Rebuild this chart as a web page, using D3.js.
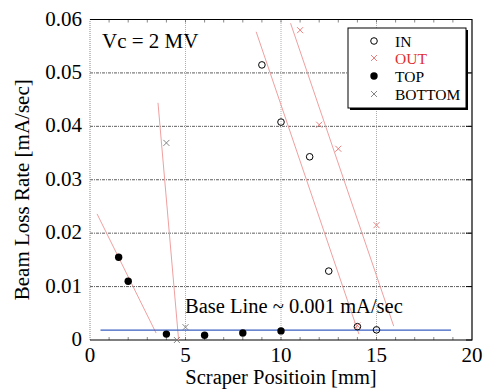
<!DOCTYPE html>
<html>
<head>
<meta charset="utf-8">
<script src="https://cdn.jsdelivr.net/npm/d3@7"></script>
<style>
  body { margin: 0; background: #fff; }
  svg text { font-family: "Liberation Serif", "Times New Roman", Times, "DejaVu Serif", serif; }
</style>
</head>
<body>
<div id="chart"></div>
<script>
// -----------------------------
// data
// -----------------------------
const inPts = [[9, 0.0515], [10, 0.0408], [11.5, 0.0343], [12.5, 0.0129], [14, 0.0025], [15, 0.0019]]
const outPts = [[11, 0.058], [12, 0.0403], [13, 0.0358], [15, 0.0215], [14, 0.0027]]
const topPts = [[1.5, 0.0155], [2, 0.011], [4, 0.0011], [6, 0.0009], [8, 0.0013], [10, 0.0017]]
const bottomPts = [[4, 0.0369], [4.55, 0], [5, 0.0024]]

// fitted lines (start, end)
const fitLines = [
    [[0.37, 0.0236], [3.46, 0.0013]],
    [[3.56, 0.0444], [4.64, 0]],
    [[8.7, 0.0577], [14.08, 0.0011]],
    [[10.5, 0.0593], [15.9, 0.0026]]
]
const baseLine = [[0.55, 0.00185], [18.9, 0.00185]]

const xTicks = [0, 5, 10, 15, 20]
const yTicks = [0, 0.01, 0.02, 0.03, 0.04, 0.05, 0.06]
const legendItems = ['IN', 'OUT', 'TOP', 'BOTTOM']

// -----------------------------
// layout
// -----------------------------
const w = 486, h = 390
const margin = {left: 90, right: 14, top: 19.5, bottom: 50}

const x = d3.scaleLinear().domain([0, 20]).range([margin.left, w - margin.right])
const y = d3.scaleLinear().domain([0, 0.06]).range([h - margin.bottom, margin.top])

const svg = d3.select('#chart').append('svg')
    .attr('width', w).attr('height', h)
    .attr('font-family', '"Liberation Serif", "Times New Roman", serif')

const x0 = x(0), x1 = x(20), y0 = y(0), y1 = y(0.06)

// grid lines
svg.append('g').selectAll('line.hgrid')
    .data(yTicks.slice(1, -1))
    .join('line')
    .attr('x1', x0).attr('x2', x1)
    .attr('y1', d => y(d)).attr('y2', d => y(d))
    .attr('stroke', '#333').attr('stroke-width', 0.8)
    .attr('stroke-dasharray', '3,1,1,1')

svg.append('g').selectAll('line.vgrid')
    .data(xTicks.slice(1, -1))
    .join('line')
    .attr('x1', d => x(d)).attr('x2', d => x(d))
    .attr('y1', y0).attr('y2', y1)
    .attr('stroke', '#999').attr('stroke-width', 0.8)
    .attr('stroke-dasharray', '1,1')

// minor ticks on top and bottom
const minor = d3.range(1, 20)
svg.append('g').selectAll('line')
    .data(minor)
    .join('line')
    .attr('x1', d => x(d)).attr('x2', d => x(d))
    .attr('y1', y0).attr('y2', y0 - 3)
    .attr('stroke', '#555').attr('stroke-width', 0.7)
svg.append('g').selectAll('line')
    .data(minor)
    .join('line')
    .attr('x1', d => x(d)).attr('x2', d => x(d))
    .attr('y1', y1).attr('y2', y1 + 3)
    .attr('stroke', '#555').attr('stroke-width', 0.7)

// right side major ticks
svg.append('g').selectAll('line')
    .data(yTicks)
    .join('line')
    .attr('x1', x1).attr('x2', x1 - 6)
    .attr('y1', d => y(d)).attr('y2', d => y(d))
    .attr('stroke', '#000').attr('stroke-width', 1)

// frame
svg.append('line').attr('x1', x0).attr('x2', x0).attr('y1', y0).attr('y2', y1)
    .attr('stroke', '#888').attr('stroke-width', 1).attr('stroke-dasharray', '1,1')
svg.append('path')
    .attr('d', `M${x0},${y1}H${x1}V${y0}H${x0}`)
    .attr('fill', 'none').attr('stroke', '#000').attr('stroke-width', 1.2)

// tick labels
svg.append('g').selectAll('text')
    .data(yTicks)
    .join('text')
    .attr('x', x0 - 8).attr('y', d => y(d) + 6)
    .attr('text-anchor', 'end')
    .attr('font-size', 21)
    .text(d => d === 0 ? '0' : d.toFixed(2))

svg.append('g').selectAll('text')
    .data(xTicks)
    .join('text')
    .attr('x', d => x(d)).attr('y', y0 + 22)
    .attr('text-anchor', 'middle')
    .attr('font-size', 21)
    .text(d => d)

// axis titles
svg.append('text')
    .attr('x', (x0 + x1) / 2).attr('y', h - 6)
    .attr('text-anchor', 'middle')
    .attr('font-size', 20.5)
    .text('Scraper Positioin [mm]')

svg.append('text')
    .attr('transform', `translate(29,${(y0 + y1) / 2 + 10}) rotate(-90)`)
    .attr('text-anchor', 'middle')
    .attr('font-size', 21)
    .text('Beam Loss Rate [mA/sec]')

// fit lines
const line = d3.line().x(d => x(d[0])).y(d => y(d[1]))
svg.append('g').selectAll('path')
    .data(fitLines)
    .join('path')
    .attr('d', line)
    .attr('fill', 'none')
    .attr('stroke', '#f0a0a0').attr('stroke-width', 1)

svg.append('path')
    .attr('d', line(baseLine))
    .attr('fill', 'none')
    .attr('stroke', '#3a5fc0').attr('stroke-width', 1.3)

// annotations
svg.append('text')
    .attr('x', 102).attr('y', 48)
    .attr('font-size', 21)
    .text('Vc = 2 MV')

svg.append('text')
    .attr('x', 185).attr('y', 313)
    .attr('font-size', 20.5)
    .text('Base Line ~ 0.001 mA/sec')

// markers
const cross = (g, cx, cy, s, col) => {
    g.append('path')
        .attr('d', `M${cx - s},${cy - s}L${cx + s},${cy + s}M${cx - s},${cy + s}L${cx + s},${cy - s}`)
        .attr('stroke', col).attr('stroke-width', 0.9).attr('fill', 'none')
}

const pts = svg.append('g')
inPts.forEach(d => {
    pts.append('circle').attr('cx', x(d[0])).attr('cy', y(d[1])).attr('r', 3.3)
        .attr('fill', 'none').attr('stroke', '#000').attr('stroke-width', 1)
})
outPts.forEach(d => cross(pts, x(d[0]), y(d[1]), 3, '#e87070'))
topPts.forEach(d => {
    pts.append('circle').attr('cx', x(d[0])).attr('cy', y(d[1])).attr('r', 3.7)
        .attr('fill', '#000')
})
bottomPts.forEach(d => cross(pts, x(d[0]), y(d[1]), 3, '#777'))

// legend
const lg = svg.append('g')
lg.append('rect').attr('x', 350).attr('y', 30).attr('width', 118).attr('height', 80)
    .attr('fill', '#000')
lg.append('rect').attr('x', 348).attr('y', 28).attr('width', 118).attr('height', 80)
    .attr('fill', '#fff').attr('stroke', '#000').attr('stroke-width', 1)

const rowY = [41, 58, 76, 94]
lg.append('circle').attr('cx', 374).attr('cy', rowY[0]).attr('r', 3.3)
    .attr('fill', 'none').attr('stroke', '#000')
cross(lg, 374, rowY[1], 3, '#e87070')
lg.append('circle').attr('cx', 374).attr('cy', rowY[2]).attr('r', 3.7).attr('fill', '#000')
cross(lg, 374, rowY[3], 3, '#777')

lg.selectAll('text.lab')
    .data(legendItems)
    .join('text')
    .attr('x', 395).attr('y', (d, i) => rowY[i] + 5.5)
    .attr('font-size', 15.5)
    .attr('fill', d => d === 'OUT' ? '#e03030' : '#000')
    .text(d => d)
</script>
</body>
</html>
